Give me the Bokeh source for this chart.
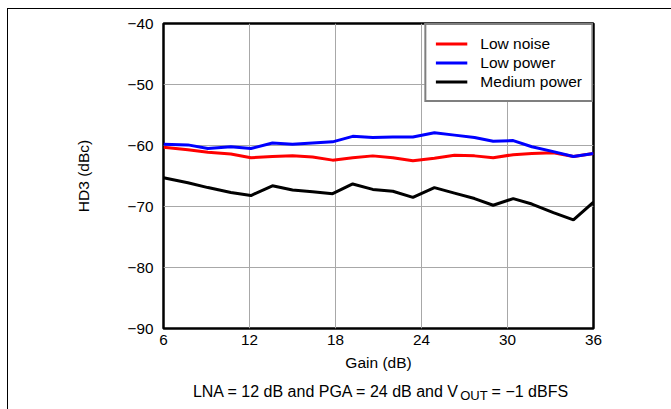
from bokeh.plotting import figure
from bokeh.layouts import column
from bokeh.models import FixedTicker, Legend, LegendItem
from bokeh.core.properties import value
from bokeh.embed import file_html
from bokeh.resources import INLINE

# ---- data ----
gain_db = [6, 7.7, 9.1, 10.7, 12.1, 13.6, 15.0, 16.4, 17.8, 19.2, 20.6, 22.0,
           23.4, 24.9, 26.3, 27.7, 29.0, 30.4, 31.7, 33.2, 34.6, 36]
low_noise = [-60.3, -60.7, -61.1, -61.4, -62.0, -61.8, -61.7, -61.9, -62.4, -62.0, -61.7,
             -62.0, -62.5, -62.1, -61.6, -61.7, -62.0, -61.5, -61.3, -61.2, -61.8, -61.3]
low_power = [-59.8, -59.9, -60.5, -60.2, -60.5, -59.6, -59.8, -59.6, -59.4, -58.5, -58.7,
             -58.6, -58.6, -57.9, -58.3, -58.7, -59.3, -59.2, -60.2, -61.0, -61.8, -61.3]
medium_power = [-65.3, -66.1, -66.9, -67.7, -68.2, -66.6, -67.3, -67.6, -67.9, -66.3, -67.2,
                -67.5, -68.5, -66.9, -67.8, -68.7, -69.8, -68.7, -69.6, -71.0, -72.2, -69.3]
series_names = ["Low noise", "Low power", "Medium power"]
series_colors = ["#ff0000", "#0000ff", "#000000"]
x_ticks = [6, 12, 18, 24, 30, 36]
y_ticks = [-90, -80, -70, -60, -50, -40]
x_label = "Gain (dB)"
y_label = "HD3 (dBc)"
caption_main = "LNA = 12 dB and PGA = 24 dB and V"
caption_sub = "OUT"
caption_tail = "= \u22121 dBFS"

FONT = "Liberation Sans"
W_TOTAL = 663
H_CHART = 369
H_CAP = 31
B_LEFT, B_RIGHT = 155, 78

p = figure(width=W_TOTAL, height=H_CHART, output_backend="svg", toolbar_location=None,
           x_range=(x_ticks[0], x_ticks[-1]), y_range=(y_ticks[0], y_ticks[-1]),
           min_border_left=B_LEFT, min_border_right=B_RIGHT, min_border_top=14,
           min_border_bottom=50)
p.background_fill_color = "white"
p.border_fill_color = "white"
p.outline_line_color = "black"
p.outline_line_width = 2.5

p.xgrid.grid_line_color = "#a8a8a8"
p.ygrid.grid_line_color = "#a8a8a8"
p.xgrid.grid_line_width = 1
p.ygrid.grid_line_width = 1

p.xaxis.ticker = FixedTicker(ticks=x_ticks)
p.yaxis.ticker = FixedTicker(ticks=y_ticks)
p.yaxis.major_label_overrides = {t: ("\u2212" + str(-t) if t < 0 else str(t)) for t in y_ticks}
for ax in (p.xaxis[0], p.yaxis[0]):
    ax.axis_line_color = None
    ax.major_tick_line_color = None
    ax.minor_tick_line_color = None
    ax.major_tick_out = 0
    ax.major_tick_in = 0
    ax.major_label_text_font = FONT
    ax.major_label_text_font_size = "15.3px"
    ax.major_label_text_color = "black"
    ax.axis_label_text_font = FONT
    ax.axis_label_text_font_size = "15.5px"
    ax.axis_label_text_font_style = "normal"
    ax.axis_label_text_color = "black"
p.xaxis.axis_label = x_label
p.yaxis.axis_label = y_label
p.xaxis.major_label_standoff = 6
p.xaxis.axis_label_standoff = 6
p.yaxis.major_label_standoff = 10
p.yaxis.axis_label_standoff = 33

items = []
for name, color, ys in zip(series_names, series_colors, [low_noise, low_power, medium_power]):
    r = p.line(gain_db, ys, line_color=color, line_width=3)
    items.append(LegendItem(label=name, renderers=[r]))

legend = Legend(items=items, location="top_right")
legend.margin = 0
legend.padding = 9
legend.spacing = 0
legend.label_height = 19
legend.glyph_height = 19
legend.glyph_width = 32
legend.label_standoff = 13
legend.label_text_font = FONT
legend.label_text_font_size = "15.5px"
legend.label_text_color = "black"
legend.border_line_color = "black"
legend.border_line_width = 2
legend.background_fill_alpha = 1
p.add_layout(legend)

# ---- caption strip: its frame lines up with the chart frame; x unit = 1 canvas px ----
W = {'L': 556, 'N': 722, 'A': 667, ' ': 278, '=': 584, '1': 556, '2': 556, '4': 556,
     'd': 556, 'B': 667, 'a': 556, 'n': 556, 'P': 667, 'G': 778, 'V': 667, 'O': 778,
     'U': 722, 'T': 611, '\u2212': 584, 'F': 611, 'S': 667}

def tw(s, size):
    return sum(W.get(c, 556) for c in s) * size / 1000.0

cap_size = 16.0
sub_size = 13.0
w_main = tw(caption_main, cap_size)
w_sub = tw(caption_sub, sub_size)
w_gap = tw(" ", cap_size)
w_tail = tw(caption_tail, cap_size)
total = w_main + w_sub + w_gap + w_tail
frame_right = W_TOTAL - B_RIGHT
center = (B_LEFT + frame_right) / 2
x0 = center - total / 2 + 2
base = 18

cap = figure(width=W_TOTAL, height=H_CAP, output_backend="svg", toolbar_location=None,
             x_range=(B_LEFT, frame_right), y_range=(0, H_CAP),
             x_axis_type=None, y_axis_type=None,
             min_border_left=B_LEFT, min_border_right=B_RIGHT,
             min_border_top=0, min_border_bottom=0)
cap.outline_line_color = None
cap.background_fill_color = "white"
cap.border_fill_color = "white"
cap.grid.visible = False
cap.text(x=[x0, x0 + w_main + w_sub + w_gap], y=[base, base], text=[caption_main, caption_tail],
         text_font=value(FONT), text_font_size=f"{cap_size}px", text_color="black",
         text_baseline="alphabetic", text_align="left")
cap.text(x=[x0 + w_main + 0.5], y=[base - 4], text=[caption_sub],
         text_font=value(FONT), text_font_size=f"{sub_size}px", text_color="black",
         text_baseline="alphabetic", text_align="left")

layout = column(p, cap, spacing=0)
layout.styles = {"margin-left": "7px", "margin-top": "8px",
                 "border-top": "1px solid black", "border-left": "1px solid black"}

open("out.html", "w").write(file_html(layout, INLINE))
